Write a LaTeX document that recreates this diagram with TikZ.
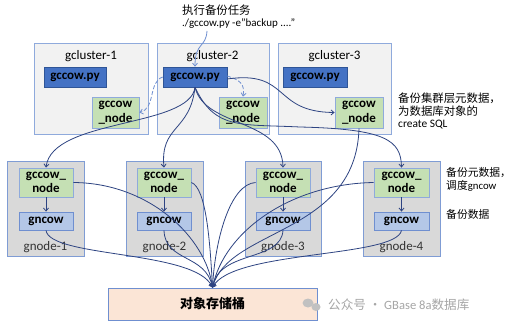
\documentclass[tikz,border=0pt]{standalone}
\usepackage{fontspec}
\setmainfont{Carlito}
\newfontfamily\cjk{Noto Sans CJK SC}
\usetikzlibrary{arrows.meta}
\definecolor{lineblue}{HTML}{2E4482}
\definecolor{lightline}{HTML}{6F8FD0}
\definecolor{clusterfill}{HTML}{F2F2F2}
\definecolor{clusterborder}{HTML}{8FAADC}
\definecolor{gnodefill}{HTML}{D9D9D9}
\definecolor{gnodeborder}{HTML}{7F9CD4}
\definecolor{pyfill}{HTML}{4472C4}
\definecolor{pyborder}{HTML}{2F5597}
\definecolor{greenfill}{HTML}{C5E0B4}
\definecolor{greenborder}{HTML}{8FAADC}
\definecolor{cowfill}{HTML}{B4C7E7}
\definecolor{cowborder}{HTML}{6F8FD0}
\definecolor{storefill}{HTML}{FBE5D6}
\definecolor{storeborder}{HTML}{6F8FD0}
\definecolor{wmgray}{HTML}{A6A6A6}
\tikzset{
  boxtext/.style={font=\fontsize{13}{14}\selectfont},
  clusterbox/.style={draw=clusterborder, fill=clusterfill, line width=0.8pt, inner sep=0pt},
  gnodebox/.style={draw=gnodeborder, fill=gnodefill, line width=0.8pt, inner sep=0pt},
  pybox/.style={draw=pyborder, fill=pyfill, line width=0.6pt, inner sep=0pt, minimum height=20pt, font=\fontsize{13}{14}\selectfont\bfseries},
  greenbox/.style={draw=greenborder, fill=greenfill, line width=0.8pt, inner sep=0pt, align=center, font=\fontsize{13}{14.5}\selectfont\bfseries},
  cowbox/.style={draw=cowborder, fill=cowfill, line width=0.8pt, inner sep=0pt, minimum height=18pt, font=\fontsize{13}{14}\selectfont\bfseries},
  storebox/.style={draw=storeborder, fill=storefill, line width=0.8pt, inner sep=0pt, font=\fontsize{13}{14}\selectfont\cjk\bfseries},
  conn/.style={draw=lineblue, line width=0.8pt, -{Straight Barb[length=3pt,width=5pt]}},
  dconn/.style={draw=lightline, line width=0.8pt, dashed, dash pattern=on 4pt off 2pt, -{Straight Barb[length=3pt,width=5pt]}},
  topconn/.style={draw=lightline, line width=0.8pt, -{Straight Barb[length=3pt,width=5pt]}},
  note/.style={font=\fontsize{11.4}{13}\selectfont, anchor=west, inner sep=0pt, align=left},
  smallnote/.style={note, font=\fontsize{10.8}{13}\selectfont},
}
\begin{document}
\begin{tikzpicture}[x=1pt,y=-1pt]
\useasboundingbox[fill=white] (0,0) rectangle (514,326);

% clusters
\node[clusterbox, minimum width=114pt, minimum height=91pt] (c1) at (91,88.5) {};
\node[clusterbox, minimum width=112pt, minimum height=91pt] (c2) at (213,88.5) {};
\node[clusterbox, minimum width=113pt, minimum height=91pt] (c3) at (334.5,88.5) {};
\node[boxtext] (c1l) at (91,56) {gcluster-1};
\node[boxtext] (c2l) at (212.5,56) {gcluster-2};
\node[boxtext] (c3l) at (334.5,56) {gcluster-3};

\node[pybox, minimum width=62pt] (py1) at (75,77) {gccow.py};
\node[pybox, minimum width=64pt] (py2) at (195,77) {gccow.py};
\node[pybox, minimum width=64pt] (py3) at (315,77) {gccow.py};

\node[greenbox, minimum width=47pt, minimum height=31pt] (cn1) at (115.5,112.5) {gccow\\\_node};
\node[greenbox, minimum width=48pt, minimum height=31pt] (cn2) at (243,112.5) {gccow\\\_node};
\node[greenbox, minimum width=48pt, minimum height=31pt] (cn3) at (359,112.5) {gccow\\\_node};

% gnodes
\node[gnodebox, minimum width=77pt, minimum height=95pt] (g1) at (45.5,208.5) {};
\node[gnodebox, minimum width=77pt, minimum height=95pt] (g2) at (164.5,208.5) {};
\node[gnodebox, minimum width=76pt, minimum height=95pt] (g3) at (283,208.5) {};
\node[gnodebox, minimum width=77pt, minimum height=95pt] (g4) at (401.5,208.5) {};

\node[greenbox, minimum width=54pt, minimum height=29pt] (gn1) at (46,182.5) {gccow\_\\node};
\node[greenbox, minimum width=54pt, minimum height=29pt] (gn2) at (164,182.5) {gccow\_\\node};
\node[greenbox, minimum width=54pt, minimum height=29pt] (gn3) at (283,182.5) {gccow\_\\node};
\node[greenbox, minimum width=55pt, minimum height=29pt] (gn4) at (401.5,182.5) {gccow\_\\node};

\node[cowbox, minimum width=54pt] (w1) at (46,221) {gncow};
\node[cowbox, minimum width=54pt] (w2) at (164,221) {gncow};
\node[cowbox, minimum width=54pt] (w3) at (283,221) {gncow};
\node[cowbox, minimum width=55pt] (w4) at (401.5,221) {gncow};

\node[boxtext, text=black!80] (g1l) at (45.5,247) {gnode-1};
\node[boxtext, text=black!80] (g2l) at (164.5,247) {gnode-2};
\node[boxtext, text=black!80] (g3l) at (283,247) {gnode-3};
\node[boxtext, text=black!80] (g4l) at (401.5,247) {gnode-4};

% storage
\node[storebox, minimum width=209pt, minimum height=32pt] (store) at (212.5,304) {对象存储桶};

% texts
\node[note] (t1) at (182,10) {\cjk 执行备份任务};
\node[note, font=\fontsize{11}{13}\selectfont] (t2) at (182,24) {./gccow.py -e”backup ....”};
\coordinate (t2b) at (207,31);

\node[note] (n1) at (398,98) {\cjk 备份集群层元数据，};
\node[note] (n2) at (398,111) {\cjk 为数据库对象的};
\node[note] (n3) at (398,125) {create SQL};
\node[smallnote] (n4) at (446,173) {\cjk 备份元数据，};
\node[smallnote] (n5) at (446,186) {{\cjk 调度}gncow};
\node[smallnote] (n6) at (446,214) {\cjk 备份数据};

% watermark
\fill[wmgray!70] (308,303) ellipse (5.5pt and 4.5pt);
\fill[wmgray!70] (316,307) ellipse (4.5pt and 4pt);
\node[note, text=wmgray, font=\fontsize{12.6}{14}\selectfont] (wm) at (328,305) {{\cjk 公众号 · }GBase 8a{\cjk 数据库}};

% connectors: top
\draw[topconn] (t2b) .. controls (206,48) and (195,42) .. (py2.north);
\draw[dconn] (py2.west) .. controls (148,82) and (156,108) .. (cn1.east);
\draw[dconn] ([yshift=1pt]py2.east) .. controls (240,80) and (245,84) .. (cn2.north);
\draw[conn] ([yshift=-2pt]py2.east) .. controls (290,70) and (272,112) .. (cn3.west);

% from gccow.py to gnodes
\draw[conn] (py2.south) .. controls (190,128) and (52,118) .. (gn1.north);
\draw[conn] (py2.south) .. controls (190,132) and (160,125) .. (gn2.north);
\draw[conn] (py2.south) .. controls (205,128) and (282,118) .. (gn3.north);
\draw[conn] (py2.south) .. controls (215,130) and (240,124) .. (300,127)
               .. controls (385,129) and (401,140) .. (gn4.north);

% inside gnodes
\draw[conn] (gn1.south) -- (w1.north);
\draw[conn] (gn2.south) -- (w2.north);
\draw[conn] (gn3.south) -- (w3.north);
\draw[conn] (gn4.south) -- (w4.north);

% to storage
\draw[conn] (cn3.south) .. controls (356,235) and (228,228) .. (store.north);
\draw[conn] (gn1.east) .. controls (150,183) and (206,238) .. (store.north);
\draw[conn] (gn2.east) .. controls (206,188) and (210,240) .. (store.north);
\draw[conn] (gn3.west) .. controls (230,184) and (215,240) .. (store.north);
\draw[conn] (gn4.west) .. controls (290,184) and (224,232) .. (store.north);
\draw[conn] (w1.south) .. controls (50,258) and (196,250) .. (store.north);
\draw[conn] (w2.south) .. controls (165,262) and (206,254) .. (store.north);
\draw[conn] (w3.south) .. controls (281,262) and (219,250) .. (store.north);
\draw[conn] (w4.south) .. controls (396,258) and (232,250) .. (store.north);
\end{tikzpicture}
\end{document}
